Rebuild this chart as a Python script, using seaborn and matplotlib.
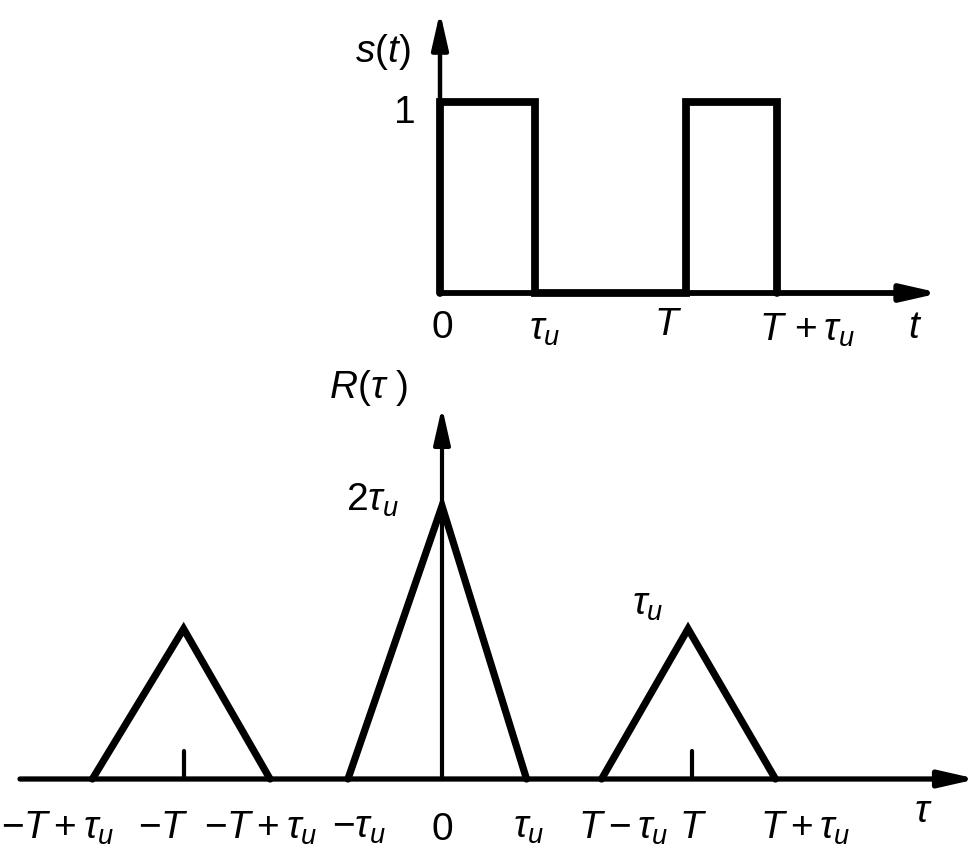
import numpy as np
import pandas as pd
import matplotlib
matplotlib.use('Agg')
import matplotlib.pyplot as plt
import seaborn as sns

# pulse train s(t), time in units of tau_u
s_t = [0, 0, 1.0, 1.0, 2.59, 2.59, 3.55, 3.55]
s_val = [0, 1, 1, 0, 0, 1, 1, 0]

# autocorrelation R(tau): three triangles
r_tau = [-3.68, -2.72, -1.81, -0.99, 0.0, 0.89, 1.68, 2.59, 3.51]
r_val = [0, 1.10, 0, 0, 2.0, 0, 0, 1.10, 0]
r_group = ['left'] * 3 + ['mid'] * 3 + ['right'] * 3
r_ticks = [-2.72, 2.63]

# labels: (text, x px, y px)
top_labels = [(r'$s(t)$', 383, 52), (r'$1$', 404, 113), (r'$0$', 442, 328),
              (r'$\tau_u$', 545, 330), (r'$T$', 668, 325),
              (r'$T\,+\tau_u$', 807, 330), (r'$t$', 915, 328)]
bot_labels = [(r'$R(\tau\ )$', 368, 388), (r'$2\tau_u$', 372, 500),
              (r'$\tau_u$', 648, 605),
              (r'$-T+\tau_u$', 58, 828), (r'$-T$', 163, 828),
              (r'$-T+\tau_u$', 261, 828), (r'$-\tau_u$', 359, 828),
              (r'$0$', 442, 830), (r'$\tau_u$', 529, 828),
              (r'$T-\tau_u$', 623, 828), (r'$T$', 693, 828),
              (r'$T+\tau_u$', 805, 828), (r'$\tau$', 923, 812)]

sns.set_style('white')
plt.rcParams['font.family'] = ['Liberation Sans', 'DejaVu Sans']
plt.rcParams['mathtext.fontset'] = 'custom'
plt.rcParams['mathtext.rm'] = 'Liberation Sans'
plt.rcParams['mathtext.it'] = 'Liberation Sans:italic'
plt.rcParams['mathtext.bf'] = 'Liberation Sans:bold'

W, H = 978, 853
fig = plt.figure(figsize=(W / 100, H / 100), dpi=100)

# top panel: origin at (440, 294) px, 95 px per tau_u, 191 px per unit
ax1 = fig.add_axes([0, 0, 1, 1])
ax1.set_xlim(-440 / 95, (W - 440) / 95)
ax1.set_ylim((294 - H) / 191, 294 / 191)
ax1.axis('off')
ax1.patch.set_alpha(0)

# bottom panel: origin at (442, 780) px, 95 px per tau_u, 136.5 px per unit
ax2 = fig.add_axes([0, 0, 1, 1])
ax2.set_xlim(-442 / 95, (W - 442) / 95)
ax2.set_ylim((780 - H) / 136.5, 780 / 136.5)
ax2.axis('off')
ax2.patch.set_alpha(0)

arrow = dict(arrowstyle='-|>,head_length=1.1,head_width=0.25', color='black',
             shrinkA=0, shrinkB=0, mutation_scale=20)

# axes of top panel
ax1.annotate('', xy=(0, (294 - 13) / 191), xytext=(0, 0),
             arrowprops=dict(arrow, lw=3.2))
ax1.annotate('', xy=((940 - 440) / 95, 0), xytext=(0, 0),
             arrowprops=dict(arrow, lw=4.2))

df_s = pd.DataFrame({'t': s_t, 's': s_val})
sns.lineplot(data=df_s, x='t', y='s', sort=False, estimator=None, ax=ax1,
             color='black', lw=5.6, solid_joinstyle='miter')

# axes of bottom panel
ax2.annotate('', xy=(0, (780 - 408) / 136.5), xytext=(0, 0),
             arrowprops=dict(arrow, lw=3.0))
ax2.annotate('', xy=((977 - 442) / 95, 0), xytext=((20 - 442) / 95, 0),
             arrowprops=dict(arrow, lw=3.8))
for tk in r_ticks:
    ax2.plot([tk, tk], [0, 28 / 136.5], color='black', lw=3)

df_r = pd.DataFrame({'tau': r_tau, 'R': r_val, 'g': r_group})
sns.lineplot(data=df_r, x='tau', y='R', units='g', sort=False, estimator=None,
             ax=ax2, color='black', lw=5.2, solid_joinstyle='miter')

for txt, x, y in top_labels + bot_labels:
    fig.text(x / W, 1 - y / H, txt, fontsize=28, ha='center', va='center',
             color='black')

fig.savefig('out.png', dpi=100, facecolor='white')
